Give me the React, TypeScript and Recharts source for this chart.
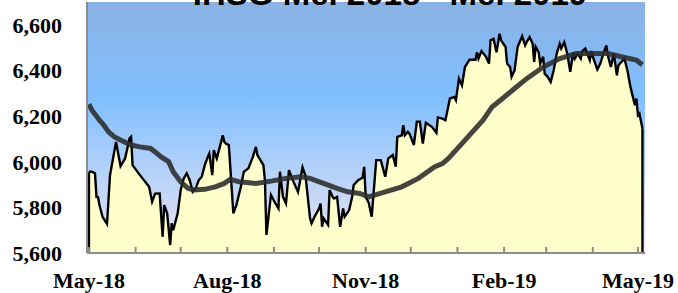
import React from "react";
import {
  ComposedChart,
  Area,
  Line,
  XAxis,
  YAxis,
  CartesianGrid,
  ReferenceLine,
} from "recharts";

// IHSG daily close
const closeDates = [
  "2018-05-01", "2018-05-03", "2018-05-05", "2018-05-06", "2018-05-07", "2018-05-08", "2018-05-10", "2018-05-13",
  "2018-05-15", "2018-05-19", "2018-05-22", "2018-05-25", "2018-05-28", "2018-05-29", "2018-05-30", "2018-06-03",
  "2018-06-10", "2018-06-12", "2018-06-14", "2018-06-17", "2018-06-19", "2018-06-20", "2018-06-22", "2018-06-24",
  "2018-06-25", "2018-06-26", "2018-06-29", "2018-07-01", "2018-07-03", "2018-07-05", "2018-07-07", "2018-07-09",
  "2018-07-11", "2018-07-13", "2018-07-15", "2018-07-17", "2018-07-19", "2018-07-20", "2018-07-22", "2018-07-23",
  "2018-07-25", "2018-07-27", "2018-07-29", "2018-07-30", "2018-07-31", "2018-08-02", "2018-08-05", "2018-08-07",
  "2018-08-10", "2018-08-12", "2018-08-15", "2018-08-18", "2018-08-20", "2018-08-21", "2018-08-25", "2018-08-26",
  "2018-08-27", "2018-08-30", "2018-09-02", "2018-09-04", "2018-09-05", "2018-09-07", "2018-09-09", "2018-09-11",
  "2018-09-13", "2018-09-16", "2018-09-17", "2018-09-20", "2018-09-22", "2018-09-25", "2018-09-26", "2018-09-28",
  "2018-10-01", "2018-10-02", "2018-10-03", "2018-10-04", "2018-10-07", "2018-10-08", "2018-10-10", "2018-10-11",
  "2018-10-13", "2018-10-15", "2018-10-17", "2018-10-18", "2018-10-21", "2018-10-23", "2018-10-24", "2018-10-27",
  "2018-10-30", "2018-10-31", "2018-11-01", "2018-11-03", "2018-11-05", "2018-11-08", "2018-11-11", "2018-11-14",
  "2018-11-16", "2018-11-19", "2018-11-21", "2018-11-22", "2018-11-25", "2018-11-26", "2018-11-27", "2018-11-29",
  "2018-11-30", "2018-12-01", "2018-12-03", "2018-12-05", "2018-12-07", "2018-12-09", "2018-12-11", "2018-12-15",
  "2018-12-18", "2018-12-19", "2018-12-22", "2018-12-24", "2018-12-27", "2018-12-30", "2018-12-31", "2019-01-02",
  "2019-01-04", "2019-01-06", "2019-01-09", "2019-01-13", "2019-01-14", "2019-01-15", "2019-01-17", "2019-01-20",
  "2019-01-22", "2019-01-23", "2019-01-25", "2019-01-27", "2019-01-29", "2019-01-30", "2019-02-02", "2019-02-03",
  "2019-02-05", "2019-02-06", "2019-02-08", "2019-02-10", "2019-02-13", "2019-02-15", "2019-02-16", "2019-02-18",
  "2019-02-20", "2019-02-21", "2019-02-22", "2019-02-24", "2019-02-25", "2019-02-27", "2019-02-28", "2019-03-02",
  "2019-03-04", "2019-03-06", "2019-03-08", "2019-03-10", "2019-03-11", "2019-03-13", "2019-03-15", "2019-03-17",
  "2019-03-19", "2019-03-20", "2019-03-22", "2019-03-24", "2019-03-25", "2019-03-27", "2019-03-30", "2019-03-31",
  "2019-04-01", "2019-04-04", "2019-04-06", "2019-04-08", "2019-04-10", "2019-04-11", "2019-04-13", "2019-04-15",
  "2019-04-17", "2019-04-18", "2019-04-20", "2019-04-22", "2019-04-24", "2019-04-26", "2019-04-29", "2019-04-30",
  "2019-05-01", "2019-05-02", "2019-05-04",
];
const closeValues = [
  5956, 5956, 5949, 5846, 5845, 5810, 5759, 5727,
  5941, 6087, 5981, 6014, 6102, 6109, 5985, 5949,
  5890, 5825, 5860, 5861, 5671, 5810, 5774, 5635,
  5730, 5700, 5774, 5876, 5927, 5949, 5919, 5868,
  5883, 5919, 5934, 5985, 6021, 6036, 5941, 6051,
  6014, 6065, 6116, 6087, 6080, 6073, 5774, 5810,
  5890, 5956, 5971, 6021, 6065, 6029, 5985, 5919,
  5679, 5854, 5817, 5795, 5956, 5846, 5817, 5963,
  5927, 5883, 5868, 5975, 5937, 5752, 5730, 5759,
  5795, 5817, 5715, 5752, 5723, 5876, 5846, 5839,
  5846, 5715, 5795, 5759, 5788, 5846, 5898, 5919,
  5931, 5978, 5846, 5820, 5759, 6007, 6007, 5934,
  6014, 6029, 5978, 6109, 6116, 6160, 6116, 6131,
  6124, 6109, 6073, 6175, 6175, 6080, 6171, 6153,
  6127, 6194, 6189, 6182, 6277, 6284, 6270, 6364,
  6335, 6415, 6447, 6447, 6480, 6452, 6485, 6460,
  6430, 6532, 6539, 6480, 6561, 6532, 6503, 6430,
  6415, 6372, 6401, 6503, 6550, 6510, 6524, 6546,
  6517, 6437, 6503, 6480, 6430, 6460, 6386, 6372,
  6350, 6401, 6474, 6517, 6496, 6524, 6474, 6394,
  6480, 6452, 6474, 6452, 6485, 6496, 6445, 6485,
  6460, 6404, 6430, 6474, 6510, 6466, 6415, 6474,
  6379, 6423, 6437, 6452, 6401, 6328, 6248, 6277,
  6204, 6211, 6146,
];

// moving average
const maDates = [
  "2018-05-01", "2018-05-03", "2018-05-08", "2018-05-11", "2018-05-14", "2018-05-18", "2018-05-22", "2018-05-29",
  "2018-06-04", "2018-06-11", "2018-06-14", "2018-06-18", "2018-06-23", "2018-06-26", "2018-07-01", "2018-07-06",
  "2018-07-10", "2018-07-17", "2018-07-24", "2018-07-30", "2018-08-03", "2018-08-09", "2018-08-20", "2018-08-31",
  "2018-09-09", "2018-09-19", "2018-09-25", "2018-10-04", "2018-10-13", "2018-10-20", "2018-10-28", "2018-11-03",
  "2018-11-14", "2018-11-25", "2018-12-06", "2018-12-17", "2018-12-22", "2018-12-26", "2019-01-02", "2019-01-11",
  "2019-01-18", "2019-01-24", "2019-01-31", "2019-02-08", "2019-02-16", "2019-02-27", "2019-03-10", "2019-03-21",
  "2019-03-31", "2019-04-11", "2019-04-22", "2019-04-30", "2019-05-04",
];
const maValues = [
  6252, 6226, 6182, 6160, 6131, 6109, 6095, 6073,
  6065, 6058, 6043, 6021, 6000, 5956, 5912, 5883,
  5876, 5879, 5890, 5905, 5923, 5912, 5905, 5916,
  5927, 5934, 5927, 5905, 5883, 5868, 5861, 5846,
  5868, 5890, 5927, 5978, 5992, 6014, 6065, 6131,
  6182, 6240, 6277, 6321, 6364, 6415, 6452, 6474,
  6474, 6474, 6457, 6445, 6425,
];

const yTicks = [5600, 5800, 6000, 6200, 6400, 6600];
const monthTicks = [
  "2018-05-01", "2018-06-01", "2018-07-01", "2018-08-01", "2018-09-01", "2018-10-01", "2018-11-01",
  "2018-12-01", "2019-01-01", "2019-02-01", "2019-03-01", "2019-04-01", "2019-05-01",
];
const labelMonths = ["May", "Aug", "Nov", "Feb"];
const monthNames = ["Jan", "Feb", "Mar", "Apr", "May", "Jun", "Jul", "Aug", "Sep", "Oct", "Nov", "Dec"];

const ORIGIN = Date.UTC(2018, 4, 1);
const toDay = (s: string) => {
  const [y, m, d] = s.split("-").map(Number);
  return (Date.UTC(y, m - 1, d) - ORIGIN) / 86400000;
};

const closeData = closeDates.map((d, i) => ({ day: toDay(d), close: closeValues[i] }));
const maData = maDates.map((d, i) => ({ day: toDay(d), ma: maValues[i] }));
const first = closeData[0];
const last = closeData[closeData.length - 1];

const fmtMonth = (v: number) => {
  const dt = new Date(ORIGIN + v * 86400000);
  const m = monthNames[dt.getUTCMonth()];
  if (!labelMonths.includes(m)) return "";
  return `${m}-${String(dt.getUTCFullYear()).slice(2)}`;
};

const tickFont = {
  fill: "#000",
  fontSize: 22,
  fontFamily: "Liberation Serif, serif",
  fontWeight: 700,
};

export default function App() {
  return (
    <div style={{ position: "absolute", left: 0, top: 0, width: 678, height: 293, overflow: "hidden", background: "#fff" }}>
      <ComposedChart
        width={678}
        height={293}
        margin={{ top: 2, right: 33, bottom: 0, left: 0 }}
      >
        <defs>
          <linearGradient id="plotBg" x1="0" y1="0" x2="0" y2="1">
            <stop offset="0%" stopColor="#8AB2E4" />
            <stop offset="38%" stopColor="#80BFFF" />
            <stop offset="100%" stopColor="#EEE6F2" />
          </linearGradient>
        </defs>
        <CartesianGrid horizontal={false} vertical={false} fill="url(#plotBg)" />
        <XAxis
          type="number"
          dataKey="day"
          domain={[-1.3, 369.7]}
          ticks={monthTicks.map(toDay)}
          tickFormatter={fmtMonth}
          interval={0}
          height={40}
          axisLine={{ stroke: "#8c8c8c", strokeWidth: 2 }}
          tickLine={{ stroke: "#8c8c8c", strokeWidth: 2 }}
          tickSize={-6}
          tickMargin={25}
          tick={tickFont}
          allowDataOverflow
        />
        <YAxis
          type="number"
          domain={[5600, 6700]}
          ticks={yTicks}
          tickFormatter={(v: number) => v.toLocaleString("en-US")}
          width={87}
          axisLine={{ stroke: "#8c8c8c", strokeWidth: 2 }}
          tickLine={false}
          tickSize={0}
          tickMargin={25}
          tick={tickFont}
          allowDataOverflow
        />
        <Area
          data={closeData}
          dataKey="close"
          type="linear"
          stroke="#000"
          strokeWidth={2.4}
          fill="#FFFFCC"
          fillOpacity={1}
          isAnimationActive={false}
        />
        <ReferenceLine
          segment={[{ x: first.day, y: 5600 }, { x: first.day, y: first.close }]}
          stroke="#000"
          strokeWidth={2.4}
        />
        <ReferenceLine
          segment={[{ x: last.day, y: 5600 }, { x: last.day, y: last.close }]}
          stroke="#000"
          strokeWidth={2.4}
        />
        <Line
          data={maData}
          dataKey="ma"
          type="linear"
          stroke="#2b2b2b"
          strokeOpacity={0.88}
          strokeWidth={5}
          dot={false}
          isAnimationActive={false}
        />
      </ComposedChart>
      <svg
        width={678}
        height={293}
        style={{ position: "absolute", left: 0, top: 0, pointerEvents: "none" }}
      >
        <text
          x={390}
          y={5}
          textAnchor="middle"
          fontFamily="Liberation Sans, Arial, sans-serif"
          fontWeight={700}
          fontSize={33}
          fill="#000"
        >
          IHSG Mei 2018 - Mei 2019
        </text>
      </svg>
    </div>
  );
}
